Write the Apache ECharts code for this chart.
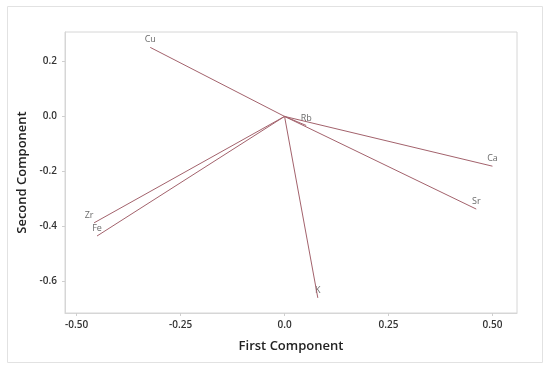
<!DOCTYPE html>
<html>
<head>
<meta charset="utf-8">
<script src="https://cdn.jsdelivr.net/npm/echarts@6/dist/echarts.min.js"></script>
<style>html,body{margin:0;padding:0;background:#fff;}#c{width:550px;height:370px;}</style>
</head>
<body>
<div id="c"></div>
<script>
const variables = ['Cu', 'Rb', 'Ca', 'Sr', 'K', 'Zr', 'Fe'];
const firstComponent = [-0.323, 0.052, 0.500, 0.461, 0.080, -0.458, -0.451];
const secondComponent = [0.251, -0.033, -0.181, -0.337, -0.660, -0.387, -0.435];
const xTickValues = [-0.5, -0.25, 0, 0.25, 0.5];
const xTickLabels = ['-0.50', '-0.25', '0.0', '0.25', '0.50'];
const yTickValues = [0.2, 0, -0.2, -0.4, -0.6];
const yTickLabels = ['0.2', '0.0', '-0.2', '-0.4', '-0.6'];

const lineColor = '#a3626c';
const labelOffsets = { Zr: [-5, 0] };

const series = variables.map((v, i) => ({
  type: 'line',
  name: v,
  data: [[0, 0], [firstComponent[i], secondComponent[i]]],
  symbol: 'none',
  lineStyle: { color: lineColor, width: 1 },
  silent: true
}));
series.push({
  type: 'scatter',
  symbolSize: 0,
  data: variables.map((v, i) => ({
    name: v,
    value: [firstComponent[i], secondComponent[i]],
    label: {
      show: true,
      formatter: v,
      position: 'top',
      distance: 3,
      offset: labelOffsets[v] || [0, 0],
      color: '#444',
      fontSize: 9,
      fontFamily: 'Open Sans'
    }
  })),
  silent: true
});

const chart = echarts.init(document.getElementById('c'));
chart.setOption({
  animation: false,
  backgroundColor: '#fff',
  graphic: [{
    type: 'rect',
    shape: { x: 7.5, y: 6.5, width: 535, height: 356 },
    style: { fill: 'none', stroke: '#e2e2e2', lineWidth: 1 },
    silent: true
  }],
  grid: { left: 65, top: 32, right: 33, bottom: 57, show: true, borderColor: '#d6d6d6', borderWidth: 1 },
  xAxis: {
    type: 'value',
    min: -0.528, max: 0.559,
    name: 'First Component',
    nameLocation: 'middle',
    nameGap: 27,
    nameTextStyle: { fontSize: 13, fontWeight: 600, color: '#222', fontFamily: 'Open Sans' },
    splitLine: { show: false },
    axisLine: { show: true, onZero: false, lineStyle: { color: '#d6d6d6' } },
    axisTick: { show: true, length: 3, lineStyle: { color: '#cfcfcf' }, customValues: xTickValues },
    axisLabel: {
      customValues: xTickValues,
      formatter: (val) => { const k = xTickValues.findIndex(t => Math.abs(t - val) < 1e-9); return k >= 0 ? xTickLabels[k] : ''; },
      fontSize: 10, fontWeight: 600, color: '#333', margin: 7, fontFamily: 'Open Sans'
    }
  },
  yAxis: {
    type: 'value',
    min: -0.715, max: 0.307,
    name: 'Second Component',
    nameLocation: 'middle',
    nameGap: 36,
    nameTextStyle: { fontSize: 13, fontWeight: 600, color: '#222', fontFamily: 'Open Sans' },
    splitLine: { show: false },
    axisLine: { show: true, onZero: false, lineStyle: { color: '#d6d6d6' } },
    axisTick: { show: true, length: 3, lineStyle: { color: '#cfcfcf' }, customValues: yTickValues },
    axisLabel: {
      customValues: yTickValues,
      formatter: (val) => { const k = yTickValues.findIndex(t => Math.abs(t - val) < 1e-9); return k >= 0 ? yTickLabels[k] : ''; },
      fontSize: 10, fontWeight: 600, color: '#333', margin: 8, fontFamily: 'Open Sans'
    }
  },
  series: series
});
</script>
</body>
</html>
